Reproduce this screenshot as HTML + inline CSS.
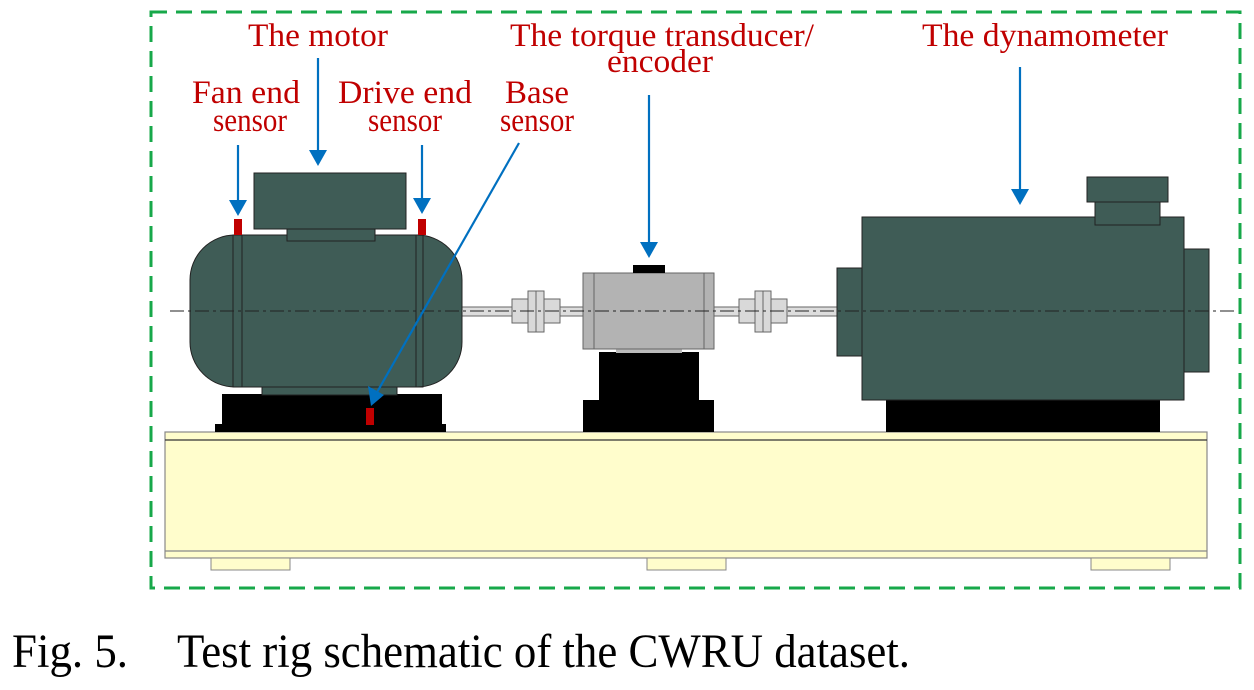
<!DOCTYPE html>
<html><head><meta charset="utf-8"><style>html,body{margin:0;padding:0;background:#fff}svg{display:block}</style></head>
<body>
<svg width="1254" height="690" viewBox="0 0 1254 690" xmlns="http://www.w3.org/2000/svg">
<rect x="151" y="12" width="1089" height="576" fill="none" stroke="#17a84a" stroke-width="3" stroke-dasharray="16 9"/>
<!-- base -->
<rect x="165" y="432" width="1042" height="126" fill="#fffdcc" stroke="#888" stroke-width="1.2"/>
<line x1="165" y1="440" x2="1207" y2="440" stroke="#333" stroke-width="1.2"/>
<line x1="165" y1="551" x2="1207" y2="551" stroke="#888" stroke-width="1.2"/>
<rect x="211" y="558" width="79" height="12" fill="#fffdcc" stroke="#888"/>
<rect x="647" y="558" width="79" height="12" fill="#fffdcc" stroke="#888"/>
<rect x="1091" y="558" width="79" height="12" fill="#fffdcc" stroke="#888"/>
<!-- shafts -->
<rect x="460" y="307" width="125" height="9" fill="#ddd" stroke="#666"/>
<rect x="712" y="307" width="127" height="9" fill="#ddd" stroke="#666"/>
<rect x="512" y="299" width="48" height="24" fill="#d9d9d9" stroke="#666"/>
<rect x="528" y="291" width="16" height="41" fill="#d9d9d9" stroke="#666"/>
<line x1="536" y1="291" x2="536" y2="332" stroke="#666"/>
<rect x="739" y="299" width="48" height="24" fill="#d9d9d9" stroke="#666"/>
<rect x="755" y="291" width="16" height="41" fill="#d9d9d9" stroke="#666"/>
<line x1="763" y1="291" x2="763" y2="332" stroke="#666"/>
<!-- motor -->
<rect x="222" y="394" width="220" height="31" fill="#000"/>
<rect x="215" y="424" width="231" height="8" fill="#000"/>
<rect x="262" y="381" width="135" height="14" fill="#3f5c56" stroke="#222"/>
<rect x="190" y="235" width="272" height="152" rx="45" ry="45" fill="#3f5c56" stroke="#222"/>
<rect x="233" y="235" width="9" height="152" fill="none" stroke="#222"/>
<rect x="416" y="235" width="7" height="152" fill="none" stroke="#222"/>
<rect x="287" y="229" width="88" height="12" fill="#3f5c56" stroke="#222"/>
<rect x="254" y="173" width="152" height="56" fill="#3f5c56" stroke="#222"/>
<rect x="234" y="219" width="8" height="16" fill="#c00000"/>
<rect x="418" y="219" width="8" height="16" fill="#c00000"/>
<rect x="366" y="408" width="8" height="17" fill="#c00000"/>
<!-- transducer -->
<rect x="599" y="352" width="100" height="50" fill="#000"/>
<rect x="583" y="400" width="131" height="32" fill="#000"/>
<rect x="616" y="348" width="66" height="5" fill="#bbb"/>
<rect x="583" y="273" width="131" height="76" fill="#b3b3b3" stroke="#666"/>
<line x1="594" y1="273" x2="594" y2="349" stroke="#666"/>
<line x1="704" y1="273" x2="704" y2="349" stroke="#666"/>
<rect x="633" y="265" width="32" height="8" fill="#000"/>
<!-- dynamometer -->
<rect x="886" y="398" width="274" height="34" fill="#000"/>
<rect x="837" y="268" width="25" height="88" fill="#3f5c56" stroke="#222"/>
<rect x="1184" y="249" width="25" height="123" fill="#3f5c56" stroke="#222"/>
<rect x="862" y="217" width="322" height="183" fill="#3f5c56" stroke="#222"/>
<rect x="1095" y="202" width="65" height="23" fill="#3f5c56" stroke="#222"/>
<rect x="1087" y="177" width="81" height="25" fill="#3f5c56" stroke="#222"/>
<!-- centre line -->
<line x1="170" y1="311" x2="1236" y2="311" stroke="#222" stroke-width="1" stroke-dasharray="14 4 3 4"/>
<!-- arrows -->
<g stroke="#0070c0" stroke-width="2.2" fill="#0070c0">
<line x1="318" y1="58" x2="318" y2="152"/><polygon points="309,150 327,150 318,166" stroke="none"/>
<line x1="238" y1="145" x2="238" y2="202"/><polygon points="229,200 247,200 238,216" stroke="none"/>
<line x1="422" y1="145" x2="422" y2="200"/><polygon points="413,198 431,198 422,214" stroke="none"/>
<line x1="649" y1="95" x2="649" y2="244"/><polygon points="640,242 658,242 649,258" stroke="none"/>
<line x1="1020" y1="67" x2="1020" y2="191"/><polygon points="1011,189 1029,189 1020,205" stroke="none"/>
<line x1="519" y1="143" x2="376" y2="394"/><polygon points="368,386 384,395 371,406" stroke="none"/>
</g>
<!-- labels -->
<g font-family="'Liberation Serif', serif" font-size="33" fill="#c00000" text-anchor="middle">
<text x="318" y="46" textLength="140" lengthAdjust="spacingAndGlyphs">The motor</text>
<text x="246" y="103" textLength="108" lengthAdjust="spacingAndGlyphs">Fan end</text>
<text x="250" y="131" textLength="74" lengthAdjust="spacingAndGlyphs">sensor</text>
<text x="405" y="103" textLength="134" lengthAdjust="spacingAndGlyphs">Drive end</text>
<text x="405" y="131" textLength="74" lengthAdjust="spacingAndGlyphs">sensor</text>
<text x="537" y="103" textLength="64" lengthAdjust="spacingAndGlyphs">Base</text>
<text x="537" y="131" textLength="74" lengthAdjust="spacingAndGlyphs">sensor</text>
<text x="662" y="46" textLength="304" lengthAdjust="spacingAndGlyphs">The torque transducer/</text>
<text x="660" y="72" textLength="106" lengthAdjust="spacingAndGlyphs">encoder</text>
<text x="1045" y="46" textLength="246" lengthAdjust="spacingAndGlyphs">The dynamometer</text>
</g>
<text x="12" y="667" font-family="'Liberation Serif', serif" font-size="48" fill="#000" textLength="116" lengthAdjust="spacingAndGlyphs">Fig. 5.</text>
<text x="177" y="667" font-family="'Liberation Serif', serif" font-size="48" fill="#000" textLength="733" lengthAdjust="spacingAndGlyphs">Test rig schematic of the CWRU dataset.</text>
</svg>
</body></html>
